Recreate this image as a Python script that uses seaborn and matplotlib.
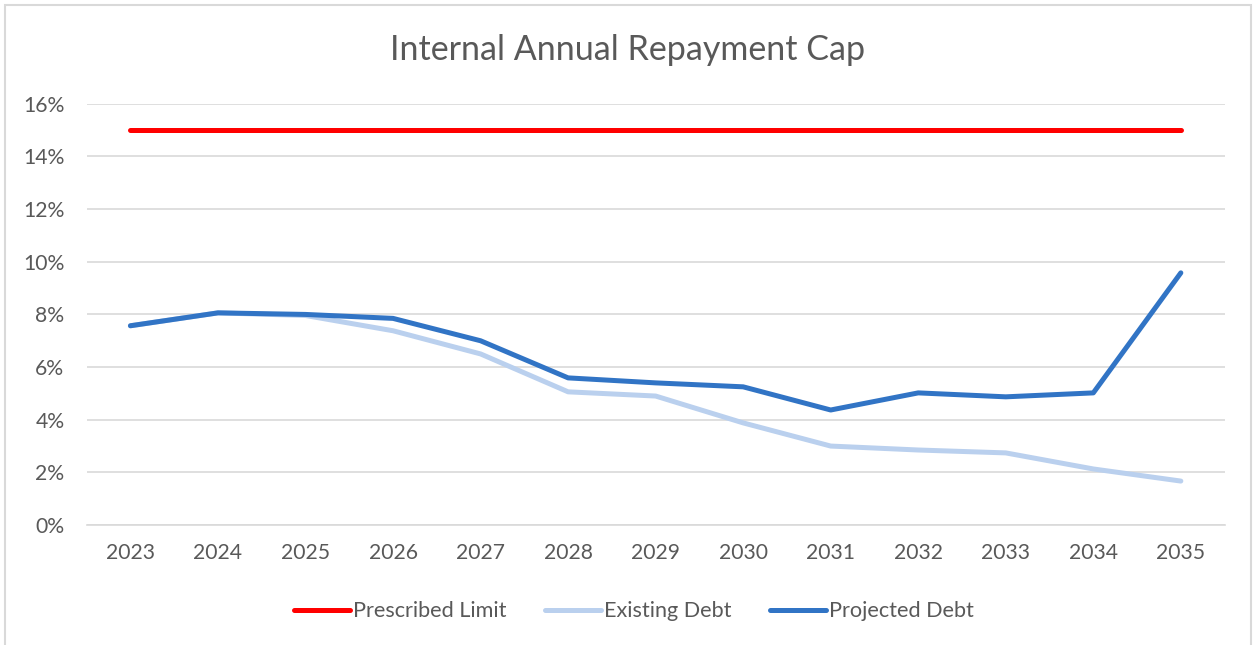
import pandas as pd
import matplotlib
matplotlib.use('Agg')
from matplotlib import pyplot as plt
from matplotlib.patches import Rectangle
import seaborn as sns

years = ['2023', '2024', '2025', '2026', '2027', '2028', '2029',
         '2030', '2031', '2032', '2033', '2034', '2035']
prescribed = [0.15] * 13
existing = [0.0757, 0.0806, 0.0796, 0.0738, 0.0650, 0.0506, 0.0490,
            0.0388, 0.0300, 0.0285, 0.0274, 0.0213, 0.0167]
projected = [0.0757, 0.0806, 0.0800, 0.0785, 0.0700, 0.0559, 0.0540,
             0.0525, 0.0437, 0.0502, 0.0487, 0.0502, 0.0958]
series = ['Prescribed Limit', 'Existing Debt', 'Projected Debt']
colors = ['#ff0000', '#bad0ee', '#3174c5']

df = pd.DataFrame({'year': years, 'Prescribed Limit': prescribed,
                   'Existing Debt': existing, 'Projected Debt': projected})
long = pd.melt(df, ['year'], var_name='series', value_name='value')

sns.set_style('white')
plt.rcParams['font.family'] = ['Lato', 'DejaVu Sans']
txt = '#595959'

fig = plt.figure(figsize=(12.56, 6.45), dpi=100)
ax = fig.add_axes([0.069, 0.186, 0.906, 0.653])
sns.lineplot(data=long, x='year', y='value', hue='series', hue_order=series,
             palette=colors, linewidth=3.6, ax=ax, sort=False,
             solid_capstyle='round')

ax.set_xlim(-0.5, 12.5)
ax.set_ylim(0, 0.16)
ax.set_yticks([i / 100 for i in range(0, 17, 2)])
ax.set_yticklabels([f'{i}%' for i in range(0, 17, 2)])
ax.yaxis.grid(True, color='#d9d9d9', linewidth=1.2)
ax.set_axisbelow(True)
for s in ['top', 'right', 'left']:
    ax.spines[s].set_visible(False)
ax.spines['bottom'].set_color('#d9d9d9')
ax.spines['bottom'].set_linewidth(1.2)
ax.tick_params(axis='both', length=0, labelsize=15.2, colors=txt)
ax.tick_params(axis='y', pad=16)
ax.tick_params(axis='x', pad=13)
ax.set_xlabel('')
ax.set_ylabel('')

fig.text(0.5, 0.922, 'Internal Annual Repayment Cap', ha='center', va='center',
         fontsize=24.5, color=txt)

leg = ax.legend(loc='center', bbox_to_anchor=(0.481, -0.205), ncol=3,
                frameon=False, fontsize=15.6, handlelength=2.55,
                handletextpad=0.15, columnspacing=1.8)
for t in leg.get_texts():
    t.set_color(txt)
for l in leg.get_lines():
    l.set_linewidth(3.6)

fig.patches.append(Rectangle((0.004, -0.01), 0.992, 1.002, transform=fig.transFigure,
                             fill=False, edgecolor='#d9d9d9', linewidth=1.5))

fig.savefig('out.png', dpi=100)
